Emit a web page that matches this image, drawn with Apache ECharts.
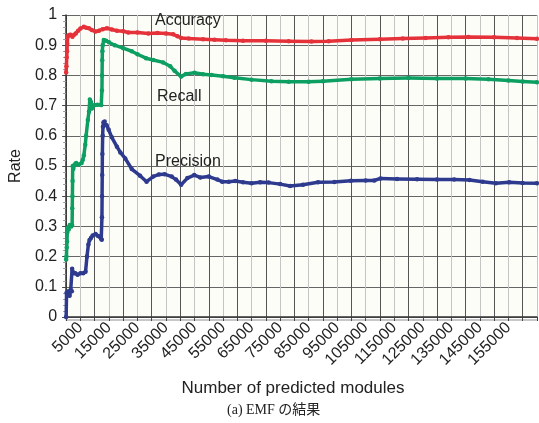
<!DOCTYPE html>
<html>
<head>
<meta charset="utf-8">
<script src="https://cdn.jsdelivr.net/npm/echarts@6/dist/echarts.min.js"></script>
<style>
html,body{margin:0;padding:0;background:#fff;}
#chart{width:539px;height:423px;}
</style>
</head>
<body>
<div id="chart"></div>
<script>
// Data
const precisionX = [0,150,400,800,1200,1600,2000,2100,2300,2700,3200,4000,5000,6000,6800,7300,7800,8200,8700,9300,10300,11200,12300,12500,12550,12600,12650,12700,12800,12900,13100,13500,14200,14900,16000,17800,19000,20700,23000,25900,28200,30500,32500,34500,37000,38500,40300,42500,44900,47000,50000,53000,54700,57000,59300,62000,65000,68000,71000,75000,78500,83000,88300,94000,99800,105000,108000,110200,116000,123000,130000,136000,141400,146000,150600,155300,160000,165000];
const precisionY = [0,0.08,0.075,0.085,0.07,0.09,0.085,0.16,0.15,0.145,0.145,0.14,0.145,0.145,0.15,0.2,0.24,0.255,0.262,0.27,0.275,0.268,0.258,0.256,0.33,0.4,0.47,0.54,0.6,0.63,0.645,0.647,0.635,0.62,0.595,0.564,0.545,0.525,0.49,0.468,0.448,0.465,0.472,0.473,0.465,0.455,0.438,0.46,0.47,0.462,0.465,0.455,0.448,0.448,0.45,0.446,0.443,0.446,0.445,0.44,0.434,0.438,0.446,0.447,0.451,0.452,0.452,0.459,0.457,0.456,0.455,0.455,0.454,0.448,0.443,0.446,0.444,0.443];

const accuracyX = [0,100,200,300,400,600,1000,1500,2200,2800,3400,4200,5000,6200,7000,8000,9000,10300,11500,12800,14300,16000,17800,20000,21800,25000,28800,32000,35000,37500,39000,40300,43000,48000,52000,56000,62000,70000,78000,86000,92000,100000,110000,118000,126000,134000,141000,150000,158000,165000];
const accuracyY = [0.81,0.83,0.86,0.88,0.905,0.93,0.934,0.935,0.928,0.935,0.939,0.948,0.955,0.961,0.958,0.956,0.95,0.945,0.948,0.953,0.956,0.952,0.948,0.946,0.942,0.942,0.939,0.94,0.939,0.936,0.93,0.924,0.922,0.92,0.918,0.916,0.915,0.915,0.913,0.912,0.913,0.917,0.92,0.922,0.924,0.926,0.927,0.926,0.924,0.921];

const recallX = [0,100,200,300,400,500,900,1300,1800,2100,2150,2200,2250,2300,2500,3000,3500,4500,5400,5800,6200,6700,7000,7600,8000,8300,8700,9000,10000,11000,12300,12550,12600,12650,12700,12800,13200,14000,15000,17000,20000,23000,25000,28000,30500,34000,36500,38000,40300,42000,45000,48000,51000,55000,59000,65000,72000,78000,85000,90000,100000,110000,120000,130000,140000,148000,155000,160000,165000];
const recallY = [0.19,0.2,0.23,0.25,0.28,0.295,0.29,0.305,0.3,0.305,0.36,0.4,0.45,0.5,0.49,0.505,0.51,0.505,0.51,0.52,0.535,0.57,0.6,0.652,0.68,0.72,0.712,0.69,0.702,0.703,0.702,0.75,0.8,0.85,0.88,0.9,0.917,0.915,0.91,0.9,0.89,0.88,0.87,0.857,0.851,0.843,0.83,0.815,0.796,0.805,0.809,0.804,0.801,0.797,0.792,0.786,0.781,0.779,0.779,0.781,0.787,0.79,0.791,0.79,0.79,0.787,0.783,0.78,0.777];

const xLabelValues = [5000,15000,25000,35000,45000,55000,65000,75000,85000,95000,105000,115000,125000,135000,145000,155000];
const seriesNames = ['Accuracy','Recall','Precision'];
const seriesColors = ['#e5323a','#0d9f62','#2d3a8e'];

function pairs(xs, ys){ return xs.map((x,i)=>[x, ys[i]]); }

const chart = echarts.init(document.getElementById('chart'), null, {renderer:'canvas'});
const FONT = '"Liberation Sans", Arial, Helvetica, sans-serif';

function lineSeries(name, data, color){
  return {
    name: name, type: 'line', data: data,
    symbol: 'circle', symbolSize: 4.5, showSymbol: true,
    lineStyle: {color: color, width: 3.5, join: 'round', cap: 'round'},
    itemStyle: {color: color},
    animation: false, z: 5
  };
}

chart.setOption({
  animation: false,
  backgroundColor: '#ffffff',
  grid: {left: 62, top: 15, right: 1, bottom: 106, show: true, backgroundColor: '#fdfdf8', borderWidth: 0},
  xAxis: {
    type: 'value', min: 0, max: 165000, interval: 5000,
    name: 'Number of predicted modules', nameLocation: 'middle', nameGap: 63,
    nameTextStyle: {fontFamily: FONT, fontSize: 17, color: '#222', padding: [0, 17, 0, 0]},
    axisLine: {show: true, onZero: false, lineStyle: {color: '#333', width: 1.5, shadowColor: '#b5b5b5', shadowOffsetY: 3, shadowBlur: 0}},
    axisTick: {show: true, length: 4, lineStyle: {color: '#444'}},
    axisLabel: {
      rotate: 45, margin: 8, fontFamily: FONT, fontSize: 16, color: '#222',
      formatter: v => xLabelValues.includes(v) ? String(v) : ''
    },
    splitLine: {show: true, lineStyle: {color: ['#555555', '#c4c4c4'], width: 1}}
  },
  yAxis: {
    type: 'value', min: 0, max: 1, interval: 0.1,
    name: 'Rate', nameLocation: 'middle', nameGap: 33, nameRotate: 90,
    nameTextStyle: {fontFamily: FONT, fontSize: 16, color: '#222'},
    axisLine: {show: true, lineStyle: {color: '#333', width: 1.5}},
    axisTick: {show: true, length: 4, lineStyle: {color: '#444'}},
    minorTick: {show: true, splitNumber: 5, length: 3, lineStyle: {color: '#999'}},
    axisLabel: {margin: 9, fontFamily: FONT, fontSize: 16, color: '#222'},
    splitLine: {show: true, lineStyle: {color: '#666', width: 1}}
  },
  series: [
    lineSeries(seriesNames[0], pairs(accuracyX, accuracyY), seriesColors[0]),
    lineSeries(seriesNames[1], pairs(recallX, recallY), seriesColors[1]),
    lineSeries(seriesNames[2], pairs(precisionX, precisionY), seriesColors[2])
  ],
  graphic: [
    {type: 'text', left: 155, top: 13, z: 10, style: {text: seriesNames[0], font: '16px ' + FONT, fill: '#222'}},
    {type: 'text', left: 157, top: 89, z: 10, style: {text: seriesNames[1], font: '16px ' + FONT, fill: '#222'}},
    {type: 'text', left: 155, top: 154, z: 10, style: {text: seriesNames[2], font: '16px ' + FONT, fill: '#222'}},
    {type: 'text', left: 227, top: 403, z: 10, style: {text: '(a) EMF の結果', font: '14px "Liberation Serif", "Times New Roman", "Noto Sans CJK JP", serif', fill: '#222'}}
  ]
});
</script>
</body>
</html>
